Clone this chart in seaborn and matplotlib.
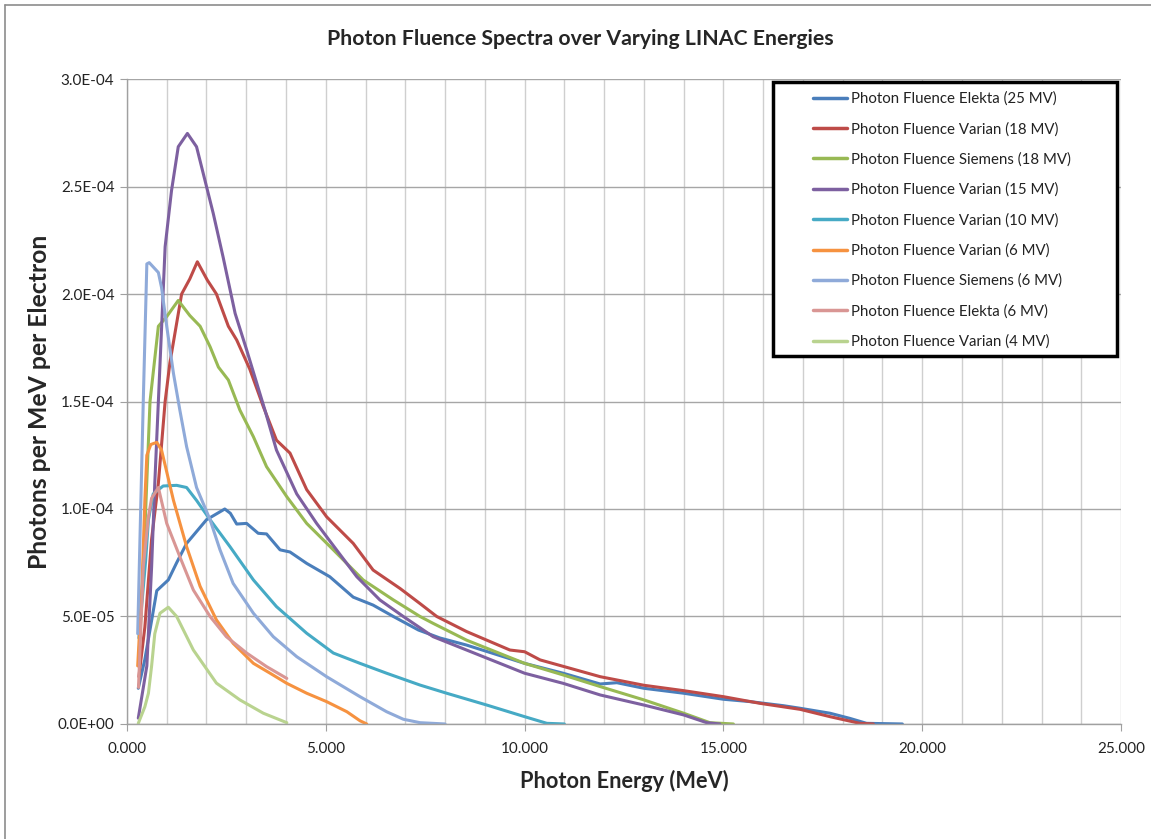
import pandas as pd
import seaborn as sns
import matplotlib.pyplot as plt
from matplotlib.patches import Rectangle
from matplotlib.lines import Line2D
from matplotlib.ticker import MultipleLocator, FuncFormatter

# values, fluence in units of 1e-4 photons/MeV/electron
elekta25_e = [0.285, 0.45, 0.75, 1.04, 1.25, 1.5, 2.0, 2.46, 2.6, 2.76, 3.01, 3.3, 3.51, 3.85, 4.1,
              4.52, 5.1, 5.69, 6.19, 6.7, 7.33, 7.87, 8.54, 10.0, 10.97, 11.9, 12.32, 13.0, 14.0,
              15.0, 15.67, 16.51, 16.93, 17.68, 18.18, 18.6, 19.5]
elekta25_f = [0.166, 0.30, 0.62, 0.67, 0.75, 0.84, 0.95, 1.0, 0.98, 0.93, 0.933, 0.887, 0.884, 0.81,
              0.80, 0.747, 0.685, 0.59, 0.553, 0.5, 0.437, 0.40, 0.367, 0.282, 0.236, 0.186, 0.192,
              0.166, 0.143, 0.115, 0.104, 0.085, 0.073, 0.05, 0.026, 0.003, 0.0]

varian18_e = [0.3, 0.45, 0.62, 0.79, 0.96, 1.08, 1.375, 1.58, 1.77, 2.02, 2.25, 2.55, 2.76, 3.09,
              3.43, 3.76, 4.1, 4.52, 5.02, 5.69, 6.19, 6.87, 7.37, 7.79, 8.54, 9.63, 10.0, 10.39,
              11.9, 13.0, 14.0, 15.0, 15.92, 16.93, 17.68, 18.43, 18.77]
varian18_f = [0.22, 0.45, 0.86, 1.12, 1.5, 1.68, 2.0, 2.07, 2.15, 2.065, 2.0, 1.85, 1.786, 1.65,
              1.476, 1.32, 1.26, 1.09, 0.964, 0.84, 0.716, 0.63, 0.56, 0.5, 0.43, 0.344, 0.336,
              0.298, 0.22, 0.18, 0.155, 0.127, 0.096, 0.068, 0.034, 0.003, 0.0]

siemens18_e = [0.3, 0.45, 0.58, 0.79, 1.0, 1.29, 1.58, 1.84, 2.09, 2.3, 2.55, 2.84, 3.18, 3.51,
               4.02, 4.52, 5.19, 5.94, 6.7, 7.37, 7.7, 8.54, 10.0, 10.97, 11.9, 13.0, 14.0,
               14.66, 15.25]
siemens18_f = [0.3, 0.9, 1.5, 1.85, 1.895, 1.97, 1.90, 1.85, 1.755, 1.66, 1.6, 1.46, 1.336, 1.197,
               1.057, 0.933, 0.81, 0.67, 0.577, 0.5, 0.468, 0.39, 0.282, 0.228, 0.174, 0.112,
               0.05, 0.006, 0.0]

varian15_e = [0.285, 0.5, 0.62, 0.70, 0.79, 0.96, 1.12, 1.29, 1.52, 1.75, 1.96, 2.17, 2.42, 2.72,
              3.01, 3.47, 3.76, 4.27, 4.77, 5.27, 5.78, 6.36, 6.95, 7.7, 8.54, 10.0, 10.97, 11.9,
              13.0, 14.0, 14.58, 14.91]
varian15_f = [0.027, 0.27, 0.73, 1.12, 1.5, 2.22, 2.48, 2.685, 2.747, 2.685, 2.53, 2.375, 2.17,
              1.91, 1.74, 1.46, 1.274, 1.07, 0.933, 0.81, 0.685, 0.577, 0.5, 0.406, 0.344, 0.236,
              0.189, 0.135, 0.088, 0.042, 0.006, 0.0]

varian10_e = [0.3, 0.47, 0.54, 0.66, 0.91, 1.25, 1.5, 1.75, 2.09, 2.59, 3.18, 3.76, 4.52, 5.19,
              5.86, 6.53, 7.37, 8.04, 9.05, 10.0, 10.56, 11.0]
varian10_f = [0.4, 0.76, 0.95, 1.07, 1.107, 1.11, 1.1, 1.04, 0.95, 0.825, 0.67, 0.546, 0.422,
              0.33, 0.282, 0.236, 0.181, 0.143, 0.088, 0.034, 0.003, 0.0]

varian6_e = [0.27, 0.38, 0.45, 0.5, 0.6, 0.75, 0.87, 1.17, 1.5, 1.84, 2.25, 2.67, 3.18, 3.6, 4.02,
             4.52, 5.02, 5.53, 5.86, 6.03]
varian6_f = [0.27, 0.65, 1.04, 1.25, 1.3, 1.31, 1.274, 1.04, 0.825, 0.64, 0.484, 0.375, 0.282,
             0.236, 0.189, 0.143, 0.104, 0.057, 0.015, 0.0]

siemens6_e = [0.27, 0.41, 0.5, 0.56, 0.79, 0.87, 1.0, 1.17, 1.33, 1.5, 1.75, 2.09, 2.34, 2.67,
              3.18, 3.68, 4.27, 5.02, 5.86, 6.53, 6.95, 7.37, 8.0]
siemens6_f = [0.42, 1.5, 2.14, 2.146, 2.10, 2.03, 1.85, 1.63, 1.46, 1.29, 1.10, 0.95, 0.81, 0.654,
              0.515, 0.406, 0.313, 0.22, 0.127, 0.057, 0.022, 0.006, 0.0]

elekta6_e = [0.29, 0.41, 0.54, 0.62, 0.79, 1.0, 1.33, 1.67, 2.09, 2.5, 3.01, 3.51, 4.02]
elekta6_f = [0.17, 0.73, 0.964, 1.05, 1.1, 0.933, 0.778, 0.623, 0.5, 0.406, 0.33, 0.267, 0.212]

varian4_e = [0.285, 0.45, 0.54, 0.62, 0.70, 0.83, 1.04, 1.25, 1.67, 2.25, 2.84, 3.43, 4.02]
varian4_f = [0.003, 0.08, 0.143, 0.27, 0.42, 0.515, 0.543, 0.5, 0.344, 0.19, 0.112, 0.05, 0.006]

series_names = ['Photon Fluence Elekta (25 MV)', 'Photon Fluence Varian (18 MV)',
                'Photon Fluence Siemens (18 MV)', 'Photon Fluence Varian (15 MV)',
                'Photon Fluence Varian (10 MV)', 'Photon Fluence Varian (6 MV)',
                'Photon Fluence Siemens (6 MV)', 'Photon Fluence Elekta (6 MV)',
                'Photon Fluence Varian (4 MV)']
series_data = [(elekta25_e, elekta25_f), (varian18_e, varian18_f), (siemens18_e, siemens18_f),
               (varian15_e, varian15_f), (varian10_e, varian10_f), (varian6_e, varian6_f),
               (siemens6_e, siemens6_f), (elekta6_e, elekta6_f), (varian4_e, varian4_f)]
colors = ['#4A7EBB', '#BE4B48', '#98B954', '#7D60A0', '#46AAC5', '#F69240',
          '#8FAAD9', '#D99694', '#B9D38F']

rows = []
for name, (e_vals, f_vals) in zip(series_names, series_data):
    for e, f in zip(e_vals, f_vals):
        rows.append({'energy': e, 'fluence': f * 1e-4, 'series': name})
df = pd.DataFrame(rows)

sns.set_style('white')
plt.rcParams['font.family'] = ['Lato', 'DejaVu Sans']

fig = plt.figure(figsize=(11.51, 8.39), dpi=100)
ax = fig.add_axes([0.1103, 0.1371, 0.8637, 0.7687])

sns.lineplot(data=df, x='energy', y='fluence', hue='series', hue_order=series_names,
             palette=colors, sort=False, estimator=None, linewidth=2.2, legend=False, ax=ax)
for line in ax.get_lines():
    line.set_solid_joinstyle('round')
    line.set_solid_capstyle('round')

ax.set_xlim(0, 25)
ax.set_ylim(0, 3.0e-4)
ax.xaxis.set_major_locator(MultipleLocator(5))
ax.xaxis.set_minor_locator(MultipleLocator(1))
ax.yaxis.set_major_locator(MultipleLocator(0.5e-4))
ax.xaxis.set_major_formatter(FuncFormatter(lambda v, p: f"{v:.3f}"))
ax.yaxis.set_major_formatter(FuncFormatter(lambda v, p: f"{v:.1E}"))

ax.grid(True, which='major', axis='y', color='#A6A6A6', linewidth=1.0)
ax.grid(True, which='both', axis='x', color='#CFCFCF', linewidth=1.0)
ax.set_axisbelow(True)
for side in ['top', 'right']:
    ax.spines[side].set_visible(False)
for side in ['left', 'bottom']:
    ax.spines[side].set_color('#A0A0A0')
    ax.spines[side].set_linewidth(1.0)
ax.tick_params(axis='both', which='major', direction='out', length=5, color='#A0A0A0',
               labelsize=11, labelcolor='#222222', bottom=True, left=True)
ax.tick_params(axis='x', which='minor', length=0)
ax.tick_params(axis='x', pad=8)
ax.tick_params(axis='y', pad=4)

ax.set_xlabel('Photon Energy (MeV)', fontsize=15.7, fontweight='bold', labelpad=10)
ax.set_ylabel('Photons per MeV per Electron', fontsize=17.8, fontweight='bold', labelpad=5)
fig.suptitle('Photon Fluence Spectra over Varying LINAC Energies', fontsize=15.3,
             fontweight='bold', x=0.504, y=0.965)

# legend in a thick black box, like the Excel original
handles = [Line2D([0], [0], color=c, linewidth=2.5) for c in colors]
ax.add_patch(Rectangle((0.65, 0.571), 0.346, 0.424, transform=ax.transAxes, fill=True,
                       facecolor='white', edgecolor='black', linewidth=2.5, zorder=4,
                       clip_on=False))
leg = ax.legend(handles, series_names, loc='upper left', bbox_to_anchor=(0.684, 0.99),
                frameon=False, fontsize=10.8, handlelength=2.3, handletextpad=0.25,
                labelspacing=1.07, borderaxespad=0, borderpad=0.4)
leg.set_zorder(5)
for t in leg.get_texts():
    t.set_color('#222222')

# outer chart border (only left/top edges visible in the reference)
fig.add_artist(Line2D([0.0043, 0.0043], [0.0, 0.994], color='#8C8C8C', linewidth=1.2,
                      transform=fig.transFigure))
fig.add_artist(Line2D([0.0043, 1.0], [0.994, 0.994], color='#8C8C8C', linewidth=1.2,
                      transform=fig.transFigure))

fig.savefig('out.png', dpi=100)
